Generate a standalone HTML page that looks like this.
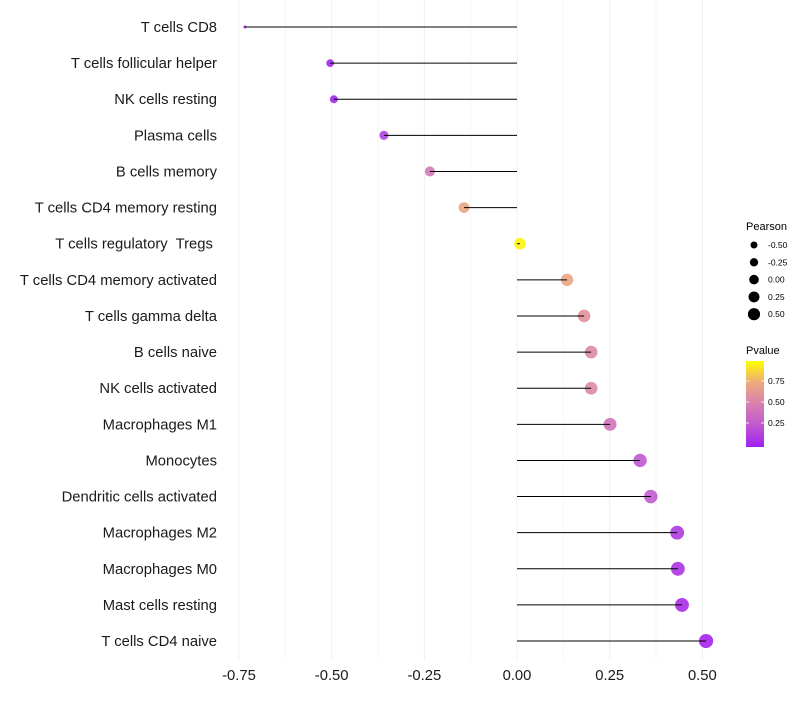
<!DOCTYPE html>
<html><head><meta charset="utf-8"><style>
body{margin:0;background:#fff;font-family:"Liberation Sans",sans-serif}
svg text{font-family:"Liberation Sans",sans-serif;white-space:pre}
</style></head><body>
<svg id="chart" width="800" height="700"></svg>
<script>
const categories=["T cells CD8","T cells follicular helper","NK cells resting","Plasma cells","B cells memory","T cells CD4 memory resting","T cells regulatory  Tregs ","T cells CD4 memory activated","T cells gamma delta","B cells naive","NK cells activated","Macrophages M1","Monocytes","Dendritic cells activated","Macrophages M2","Macrophages M0","Mast cells resting","T cells CD4 naive"];
const pearson=[-0.734,-0.504,-0.494,-0.359,-0.235,-0.143,0.008,0.135,0.181,0.2,0.2,0.251,0.332,0.361,0.432,0.434,0.445,0.51];
const pvalues=[0.02,0.03,0.03,0.15,0.45,0.72,0.97,0.72,0.6,0.55,0.55,0.42,0.25,0.27,0.12,0.09,0.06,0.02];
const xTicks=[-0.75,-0.5,-0.25,0,0.25,0.5];
const xTickLabels=["-0.75","-0.50","-0.25","0.00","0.25","0.50"];
const sizeLegend=[-0.5,-0.25,0,0.25,0.5];
const sizeLegendLabels=["-0.50","-0.25","0.00","0.25","0.50"];
const pLegend=[0.25,0.5,0.75];
const pLegendLabels=["0.25","0.50","0.75"];

const NS="http://www.w3.org/2000/svg";
const svg=document.getElementById('chart');
function mk(t,a,p){const e=document.createElementNS(NS,t);for(const k in a)e.setAttribute(k,a[k]);(p||svg).appendChild(e);return e;}
const x=v=>517+v*370.7;
const y=i=>27+i*36.12;
const stops=[[0,[160,32,240]],[0.25,[192,88,208]],[0.5,[216,128,176]],[0.75,[236,170,124]],[1,[255,255,0]]];
function col(p){for(let i=1;i<stops.length;i++){if(p<=stops[i][0]){const a=stops[i-1],b=stops[i];const t=(p-a[0])/(b[0]-a[0]);const c=a[1].map((v,j)=>Math.round(v+(b[1][j]-v)*t));return `rgb(${c})`;}}return 'rgb(255,255,0)';}
const vmin=Math.min(...pearson),vmax=Math.max(...pearson);
const rad=v=>1.5+5.6*Math.sqrt((v-vmin)/(vmax-vmin));

for(let g=-0.75;g<=0.5001;g+=0.125){
  const l=mk('line',{x1:x(g),x2:x(g),y1:0,y2:660,stroke:'#f0f0f0','stroke-width':Math.abs(g*4-Math.round(g*4))<1e-6?1:0.6});
  
  
}
categories.forEach((c,i)=>{
  const t=mk('text',{x:217,y:y(i)+5,'text-anchor':'end','font-size':14.8,fill:'#1a1a1a','xml:space':'preserve'});
  t.textContent=c;
  
  
  const dot=mk('circle',{cx:x(pearson[i]),cy:y(i),r:rad(pearson[i]),fill:col(pvalues[i]),'fill-opacity':0.9});
  
  
  const seg=mk('line',{x1:x(0),x2:x(pearson[i]),y1:y(i),y2:y(i),stroke:'#000','stroke-width':1});
  
  
});
xTicks.forEach((v,i)=>{
  const t=mk('text',{x:x(v),y:680,'text-anchor':'middle','font-size':14.8,fill:'#1a1a1a'});
  t.textContent=xTickLabels[i];
  
  
});
const lt=mk('text',{x:746,y:230,'font-size':11,fill:'#000'});lt.textContent='Pearson';


sizeLegend.forEach((v,i)=>{
  const cy=245+i*17.3;
  const c=mk('circle',{cx:754,cy:cy,r:3.5+i*0.65,fill:'#000'});
  
  
  const t=mk('text',{x:768,y:cy+3,'font-size':8.5,fill:'#000'});t.textContent=sizeLegendLabels[i];
  
  
});
const pt=mk('text',{x:746,y:354,'font-size':11,fill:'#000'});pt.textContent='Pvalue';


const defs=mk('defs',{});const lg=mk('linearGradient',{id:'pg',x1:0,y1:1,x2:0,y2:0},defs);
stops.forEach(s=>mk('stop',{offset:s[0],'stop-color':`rgb(${s[1]})`},lg));
const bar=mk('rect',{x:746,y:361,width:18,height:86,fill:'url(#pg)'});


pLegend.forEach((v,i)=>{
  const yy=444-v*84;
  mk('line',{x1:746,x2:749,y1:yy,y2:yy,stroke:'#fff','stroke-width':0.8});
  mk('line',{x1:761,x2:764,y1:yy,y2:yy,stroke:'#fff','stroke-width':0.8});
  const t=mk('text',{x:768,y:yy+3,'font-size':8.5,fill:'#000'});t.textContent=pLegendLabels[i];
  
  
});
</script>
</body></html>
